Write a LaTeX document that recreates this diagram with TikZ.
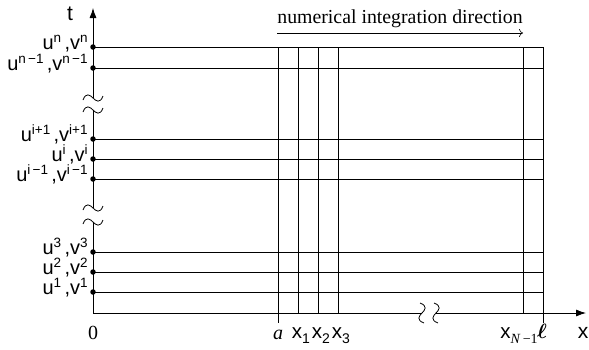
\documentclass[tikz,border=0pt]{standalone}
\usepackage{bm}
\usepackage{fontspec}
\setmainfont{Liberation Serif}
\newfontfamily\af{Liberation Sans}
\usetikzlibrary{arrows.meta}
\newcommand\mysup[1]{\raisebox{0.37em}{\fontsize{13.5}{13.5}\selectfont #1}}
\newcommand\mysub[1]{\raisebox{-0.25em}{\fontsize{14}{14}\selectfont #1}}
\newcommand\uvlab[1]{{\af u}\mysup{#1}\,,{\af v}\mysup{#1}}
\newcommand\htilde[2]{\draw (#1-10,#2+2) .. controls (#1-7,#2-6) and (#1-3,#2-3) .. (#1,#2) .. controls (#1+3,#2+3) and (#1+7,#2+6) .. (#1+10,#2-2);}
\newcommand\vtilde[2]{\draw (#1-2,#2-10) .. controls (#1+6,#2-7) and (#1+3,#2-3) .. (#1,#2) .. controls (#1-3,#2+3) and (#1-6,#2+7) .. (#1+2,#2+10);}
\begin{document}
\begin{tikzpicture}[x=1pt,y=-1pt,line width=0.8pt,
  dot/.style={circle,fill,inner sep=0pt,minimum size=5.5pt},
  lab/.style={inner sep=0pt,anchor=base east,font=\af\fontsize{20}{20}\selectfont},
  xlab/.style={inner sep=0pt,anchor=base,font=\fontsize{20}{20}\selectfont},
  axisarrow/.style={-{Latex[length=10pt,width=7pt]}}]
\useasboundingbox (0,0) rectangle (589,349);
% origin
\coordinate (O) at (93,313);
% horizontal grid lines
\foreach \y in {47,68,139,159,179,252,272,292}{
  \draw (93,\y) -- (543,\y);
}
% vertical grid lines
\foreach \x in {298,318,338,523}{
  \draw (\x,47) -- (\x,313);
}
\draw (278,47) -- (278,323);
\draw (543,47) -- (543,323);
% t axis with breaks
\draw (O) -- (93,222);
\htilde{93}{222}
\htilde{93}{208}
\draw (93,208) -- (93,110);
\htilde{93}{110}
\htilde{93}{98}
\coordinate (ttip) at (93,8);
\draw[axisarrow] (93,98) -- (ttip);
% x axis with break
\draw (O) -- (422,313);
\vtilde{422}{313}
\vtilde{436}{313}
\coordinate (xtip) at (586,313);
\draw[axisarrow] (436,313) -- (xtip);
% dots and labels
\foreach \y/\s [count=\k] in {47/{\af n},68/{{\af n}\,\textminus1},139/{{\af i}+1},159/{\af i},179/{{\af i}\,\textminus1},252/3,272/2,292/1}{
  \node[dot] (d\k) at (93,\y) {};
  \node[lab] (l\k) at (88,\y+2.5) {\uvlab{\s}};
}
% axis labels
\node[inner sep=0pt,font=\af\fontsize{21}{21}\selectfont] (tl) at (70,14) {t};
\node[inner sep=0pt,anchor=base,font=\af\fontsize{21}{21}\selectfont] (xl) at (583,338) {x};
\node[xlab] (zero) at (93,339) {0};
\node[xlab] (alab) at (278,339) {\textit{a}};
\node[inner sep=0pt,anchor=base,font=\af\fontsize{20.5}{20.5}\selectfont] (x1) at (301,338) {x\mysub{1}};
\node[inner sep=0pt,anchor=base,font=\af\fontsize{20.5}{20.5}\selectfont] (x2) at (321,338) {x\mysub{2}};
\node[inner sep=0pt,anchor=base,font=\af\fontsize{20.5}{20.5}\selectfont] (x3) at (341,338) {x\mysub{3}};
\node[inner sep=0pt,anchor=base,font=\af\fontsize{20.5}{20.5}\selectfont] (xn) at (519,338) {x\mysub{\rmfamily\textit{N}\,\textminus1}};
\node[xlab] (ell) at (542,338) {$\bm{\ell}$};
% direction
\node[inner sep=0pt,anchor=base west,font=\fontsize{19.8}{19.8}\selectfont] (dir) at (277,23) {numerical integration direction};
\coordinate (ds) at (277,33);
\coordinate (de) at (523,33);
\draw[line width=0.6pt,-{To[length=4pt,width=8pt]}] (ds) -- (de);
\end{tikzpicture}
\end{document}
